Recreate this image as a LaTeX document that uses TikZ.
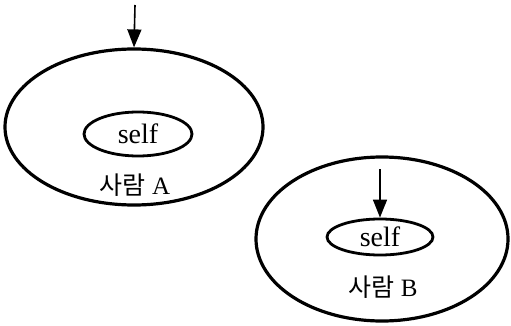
\documentclass[tikz,border=0pt]{standalone}
\usepackage{fontspec}
\setmainfont{Liberation Serif}
\newfontfamily\krfont{Noto Sans CJK KR}
\usetikzlibrary{arrows.meta,shapes.geometric}

\begin{document}
\begin{tikzpicture}[x=1pt, y=-1pt,
  >={Triangle[length=18pt,width=14pt]},
  person/.style={draw, ellipse, line width=3.2pt, inner sep=0pt},
  selfnode/.style={draw, ellipse, line width=2.8pt, inner sep=0pt,
                   font=\fontsize{28}{28}\selectfont},
  who/.style={font=\fontsize{25}{25}\selectfont},
  feed/.style={->, line width=1.6pt}
]
  \useasboundingbox (0,0) rectangle (511,326);
  % person A
  \node[person, minimum width=258pt, minimum height=156pt] (pa) at (134,127) {};
  \node[selfnode, minimum width=108pt, minimum height=44pt] (sa) at (138,134) {self};
  \node[who] (la) at (135,185) {{\krfont 사람}\ A};
  \coordinate (ta) at (135,5);
  \draw[feed] (ta) -- (pa.north);
  % person B
  \node[person, minimum width=252pt, minimum height=164pt] (pb) at (382,239) {};
  \node[selfnode, minimum width=106pt, minimum height=36pt] (sb) at (380,237) {self};
  \node[who] (lb) at (383,287) {{\krfont 사람}\ B};
  \coordinate (tb) at (380,169);
  \draw[feed] (tb) -- (sb.north);
\end{tikzpicture}
\end{document}
